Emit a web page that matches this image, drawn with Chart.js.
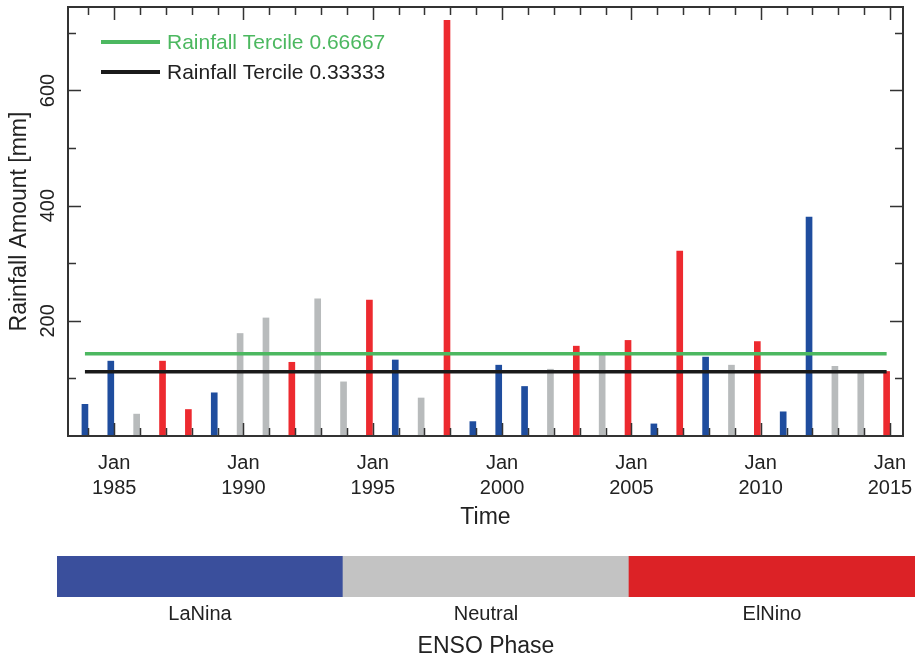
<!DOCTYPE html>
<html><head><meta charset="utf-8">
<script src="https://cdn.jsdelivr.net/npm/chart.js@4/dist/chart.umd.min.js"></script>
<style>
html,body{margin:0;padding:0;background:#fff;overflow:hidden;width:919px;height:658px}
#main{position:absolute;left:0;top:0}
#bar{position:absolute;left:0;top:540px}
</style></head><body>
<canvas id="main" width="919" height="535"></canvas>
<canvas id="bar" width="919" height="118"></canvas>
<script>
// ---- data ----
const years = [1984,1985,1986,1987,1988,1989,1990,1991,1992,1993,1994,1995,1996,1997,1998,1999,
               2000,2001,2002,2003,2004,2005,2006,2007,2008,2009,2010,2011,2012,2013,2014,2015];
const rainfall = [55,130,38,130,46,75,178,205,128,238,94,236,132,66,722,25,
                  123,86,116,156,143,166,21,321,137,123,164,42,380,121,112,112];
const phases = ['LaNina','LaNina','Neutral','ElNino','ElNino','LaNina','Neutral','Neutral','ElNino','Neutral','Neutral','ElNino','LaNina','Neutral','ElNino','LaNina',
                'LaNina','LaNina','Neutral','ElNino','Neutral','ElNino','LaNina','ElNino','LaNina','Neutral','ElNino','LaNina','LaNina','Neutral','Neutral','ElNino'];
const terciles = [143, 111.6];
const tercileLabels = ['Rainfall Tercile 0.66667', 'Rainfall Tercile 0.33333'];
const xTickYears = [1985,1990,1995,2000,2005,2010,2015];
const yTickValues = [100,200,300,400,500,600,700];
const yTickLabels = [200,400,600];
const phaseNames = ['LaNina','Neutral','ElNino'];
const phaseCounts = [1,1,1];

// ---- styles ----
const FONT = '"Liberation Sans", Arial, Helvetica, sans-serif';
Chart.defaults.font.family = FONT;
Chart.defaults.color = '#222';
const barColors = {LaNina:'#1f4d9e', Neutral:'#b8bbbc', ElNino:'#ed2a2f'};
const stripColors = ['#3a4f9c','#c3c3c3','#dc2226'];
const lineColors = ['#4cb860','#1a1a1a'];
const xOffset = -0.13; // bars sit just before each January tick

const frame = {
  id:'frame',
  afterDraw(chart){
    const {ctx, chartArea:a, scales:{x,y}} = chart;
    ctx.save();
    ctx.strokeStyle = '#333';
    ctx.lineWidth = 1.5;
    ctx.beginPath();
    for (const yr of years){
      const px = Math.round(x.getPixelForValue(yr)) + 0.5;
      const L = yr % 5 === 0 ? 13 : 8;
      ctx.moveTo(px, a.bottom); ctx.lineTo(px, a.bottom - L);
      ctx.moveTo(px, a.top); ctx.lineTo(px, a.top + L);
    }
    for (const v of yTickValues){
      const py = Math.round(y.getPixelForValue(v)) + 0.5;
      const L = v % 200 === 0 ? 13 : 8;
      ctx.moveTo(a.left, py); ctx.lineTo(a.left + L, py);
      ctx.moveTo(a.right, py); ctx.lineTo(a.right - L, py);
    }
    ctx.stroke();
    ctx.lineWidth = 2;
    ctx.strokeRect(a.left, a.top, a.right - a.left, a.bottom - a.top);
    // rotated y tick labels
    ctx.fillStyle = '#222';
    ctx.font = '20px ' + FONT;
    ctx.textAlign = 'center';
    ctx.textBaseline = 'middle';
    for (const v of yTickLabels){
      const py = y.getPixelForValue(v);
      ctx.save();
      ctx.translate(47, py);
      ctx.rotate(-Math.PI/2);
      ctx.fillText(String(v), 0, 1);
      ctx.restore();
    }
    // legend
    ctx.textAlign = 'left';
    ctx.font = '21px ' + FONT;
    const legY = [42, 72];
    tercileLabels.forEach((t,i)=>{
      ctx.strokeStyle = lineColors[i];
      ctx.lineWidth = 4;
      ctx.beginPath(); ctx.moveTo(101, legY[i]); ctx.lineTo(160, legY[i]); ctx.stroke();
      ctx.fillStyle = i === 0 ? lineColors[0] : '#222';
      ctx.fillText(t, 167, legY[i] + 1);
    });
    ctx.restore();
  }
};

const first = years[0] + xOffset, last = years[years.length-1] + xOffset;
new Chart(document.getElementById('main'), {
  type:'bar',
  data:{datasets:[
    {type:'line', label:tercileLabels[0], data:[{x:first,y:terciles[0]},{x:last,y:terciles[0]}],
     borderColor:lineColors[0], borderWidth:3.5, pointRadius:0, order:0},
    {type:'line', label:tercileLabels[1], data:[{x:first,y:terciles[1]},{x:last,y:terciles[1]}],
     borderColor:lineColors[1], borderWidth:3.5, pointRadius:0, order:0},
    {type:'bar', label:'Rainfall', data:years.map((yr,i)=>({x:yr + xOffset, y:rainfall[i]})),
     backgroundColor:phases.map(p=>barColors[p]), barThickness:6, borderWidth:0, order:1}
  ]},
  options:{
    responsive:false, animation:false,
    layout:{padding:{top:7,right:16,left:0,bottom:0}},
    plugins:{legend:{display:false}, tooltip:{enabled:false}},
    scales:{
      x:{type:'linear', min:1983.215, max:2015.503, offset:false,
         grid:{display:false, drawTicks:false, offset:false}, border:{display:false},
         afterBuildTicks:s=>{ s.ticks = xTickYears.map(v=>({value:v})); },
         ticks:{callback:v=>['Jan', String(v)], font:{size:20, lineHeight:1.25}, color:'#222', padding:15, maxRotation:0, autoSkip:false},
         title:{display:true, text:'Time', font:{size:23, lineHeight:1.2}, color:'#222', padding:{top:0,bottom:4}},
         afterFit:s=>{ s.height = 99; s.paddingLeft = 0; s.paddingRight = 0; }
      },
      y:{min:0, max:745,
         ticks:{display:false, stepSize:100},
         grid:{display:false, drawTicks:false}, border:{display:false},
         title:{display:true, text:'Rainfall Amount [mm]', font:{size:23, lineHeight:1.2}, color:'#222', padding:{top:6,bottom:0}},
         afterFit:s=>{ s.width = 68; s.paddingTop = 0; s.paddingBottom = 0; }
      }
    }
  },
  plugins:[frame]
});

new Chart(document.getElementById('bar'), {
  type:'bar',
  data:{labels:phaseNames, datasets:[{data:phaseCounts, backgroundColor:stripColors, borderWidth:0, barPercentage:1, categoryPercentage:1}]},
  options:{
    responsive:false, animation:false,
    layout:{padding:{top:16,right:4,left:57,bottom:0}},
    plugins:{legend:{display:false}, tooltip:{enabled:false}},
    scales:{
      x:{grid:{display:false, drawTicks:false}, border:{display:false},
         ticks:{font:{size:20}, color:'#222', padding:5, maxRotation:0},
         title:{display:true, text:'ENSO Phase', font:{size:23, lineHeight:1}, color:'#222', padding:{top:0,bottom:0}},
         afterFit:s=>{ s.height = 61; s.paddingLeft = 0; s.paddingRight = 0; }
      },
      y:{display:false, min:0, max:1}
    }
  }
});
</script>
</body></html>
